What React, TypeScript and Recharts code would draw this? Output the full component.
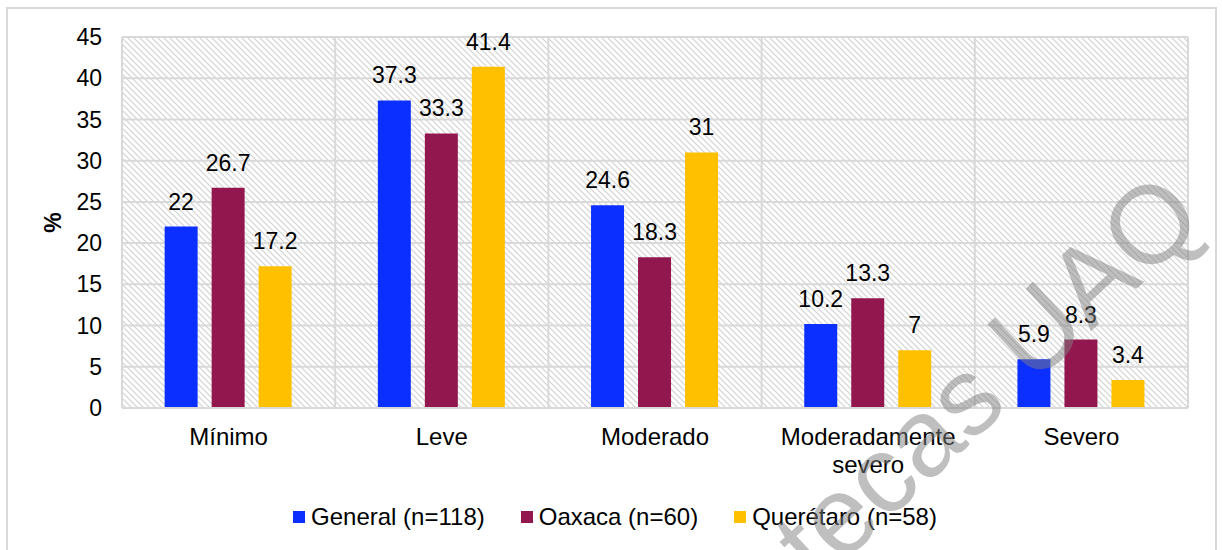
import React from "react";
import { BarChart, Bar, XAxis, YAxis, CartesianGrid, Legend, LabelList } from "recharts";

const categories = ["Mínimo", "Leve", "Moderado", "Moderadamente severo", "Severo"];
const general = [22, 37.3, 24.6, 10.2, 5.9];
const oaxaca = [26.7, 33.3, 18.3, 13.3, 8.3];
const queretaro = [17.2, 41.4, 31, 7, 3.4];
const yTicks = [0, 5, 10, 15, 20, 25, 30, 35, 40, 45];

const seriesNames = ["General (n=118)", "Oaxaca (n=60)", "Querétaro (n=58)"];
const seriesColors = ["#0B2FFF", "#93174F", "#FFC000"];

const data = categories.map((c, i) => ({
  name: c,
  general: general[i],
  oaxaca: oaxaca[i],
  queretaro: queretaro[i],
}));

const FONT = "'Liberation Sans', Arial, sans-serif";
const GRID = "#d9d9d9";

function CategoryTick({ x, y, payload }: any) {
  const words = String(payload.value);
  const lines = words.length > 14 ? words.split(" ") : [words];
  return (
    <text x={x} y={y + 37} textAnchor="middle" fontSize={24} fontFamily={FONT} fill="#000">
      {lines.map((l, i) => (
        <tspan key={i} x={x} dy={i === 0 ? 0 : 28}>
          {l}
        </tspan>
      ))}
    </text>
  );
}

function LegendContent() {
  return (
    <div style={{ display: "flex", justifyContent: "center", alignItems: "center", height: 40, fontFamily: FONT, fontSize: 24 }}>
      {seriesNames.map((n, i) => (
        <div key={n} style={{ display: "flex", alignItems: "center", marginRight: i < 2 ? 36 : 0 }}>
          <span style={{ width: 12, height: 12, background: seriesColors[i], marginRight: 6, display: "inline-block" }} />
          <span style={{ color: "#000" }}>{n}</span>
        </div>
      ))}
    </div>
  );
}

function PercentLabel({ viewBox }: any) {
  const cx = viewBox.x + 11;
  const cy = viewBox.y + viewBox.height / 2;
  return (
    <text x={cx} y={cy} transform={`rotate(-90 ${cx} ${cy})`} textAnchor="middle" dominantBaseline="central"
      fontSize={23} fontWeight="bold" fontFamily={FONT} fill="#000">
      %
    </text>
  );
}

export default function App() {
  const keys = ["general", "oaxaca", "queretaro"];
  return (
    <div style={{ position: "absolute", left: 0, top: 0, width: 1222, height: 550, background: "#fff", overflow: "hidden", fontFamily: FONT }}>
      <div style={{ position: "absolute", left: 6, top: 7, width: 1211, height: 600, border: `2px solid ${GRID}`, boxSizing: "border-box" }} />
      <BarChart width={1222} height={550} data={data} margin={{ top: 37, right: 34, left: 42, bottom: 13 }}
        barCategoryGap="20%" barGap={14}>
        <defs>
          <pattern id="hatch" patternUnits="userSpaceOnUse" width="6" height="6">
            <rect width="6" height="6" fill="#fff" />
            <path d="M0,0 L6,6 M-1,5 L1,7 M5,-1 L7,1" stroke="#d2d2d2" strokeWidth="1.2" />
          </pattern>
        </defs>
        <CartesianGrid fill="url(#hatch)" fillOpacity={1} stroke={GRID} strokeWidth={2}
          verticalCoordinatesGenerator={({ offset }: any) =>
            categories.map((_, i) => offset.left + (i * offset.width) / categories.length).concat(offset.left + offset.width)} />
        <XAxis dataKey="name" height={89} interval={0} tickLine={false} tickSize={0} tickMargin={0}
          axisLine={{ stroke: GRID, strokeWidth: 2 }} tick={<CategoryTick />} />
        <YAxis width={80} domain={[0, 45]} ticks={yTicks} interval={0} axisLine={false} tickLine={false}
          tickSize={0} tickMargin={20} tick={{ fontSize: 23, fill: "#000", fontFamily: FONT }}
          label={<PercentLabel />} />
        <Legend verticalAlign="bottom" content={<LegendContent />} wrapperStyle={{ height: 40 }} />
        {keys.map((k, i) => (
          <Bar key={k} dataKey={k} name={seriesNames[i]} fill={seriesColors[i]} isAnimationActive={false}>
            <LabelList dataKey={k} position="top" offset={17} fontSize={23} fill="#000" fontFamily={FONT} />
          </Bar>
        ))}
      </BarChart>
      <svg width={1222} height={550} style={{ position: "absolute", left: 0, top: 0, pointerEvents: "none" }}>
        <text x={1207} y={223} textAnchor="end" fontSize={110} fontFamily={FONT} fill="#808080" fillOpacity={0.5}
          transform="rotate(-43 1207 223)">
          Bibliotecas UAQ
        </text>
      </svg>
    </div>
  );
}
